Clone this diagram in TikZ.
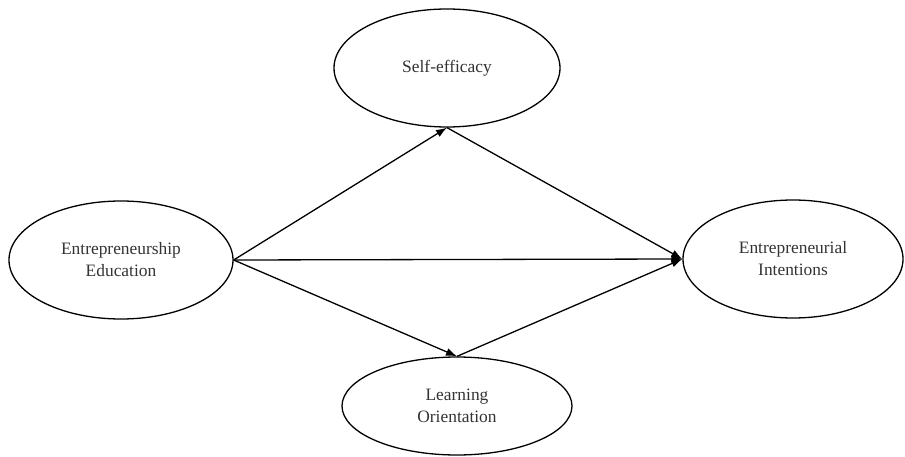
\documentclass[tikz,border=0pt]{standalone}
\usepackage{fontspec}
\setmainfont{Liberation Serif}
\usetikzlibrary{shapes.geometric,arrows.meta}
\begin{document}
\begin{tikzpicture}[x=1pt,y=-1pt,
  construct/.style={draw, ellipse, line width=1.3pt, inner sep=0pt, align=center,
    font=\fontsize{17.4}{22}\selectfont, text=black!80},
  path/.style={line width=1.3pt, -{Latex[length=11pt,width=8pt]}}]
\useasboundingbox (0,0) rectangle (905,457);
\node[construct, minimum width=224pt, minimum height=118pt] (ee) at (121,260) {Entrepreneurship\\Education};
\node[construct, minimum width=226pt, minimum height=118pt] (se) at (447,68) {Self-efficacy};
\node[construct, minimum width=220pt, minimum height=118pt] (ei) at (793,259) {Entrepreneurial\\Intentions};
\node[construct, minimum width=230pt, minimum height=98pt] (lo) at (457,406) {Learning\\Orientation};
\draw[path] (ee.east) -- (se.south);
\draw[path] (ee.east) -- (ei.west);
\draw[path] (ee.east) -- (lo.north);
\draw[path] (se.south) -- (ei.west);
\draw[path] (lo.north) -- (ei.west);
\end{tikzpicture}
\end{document}
